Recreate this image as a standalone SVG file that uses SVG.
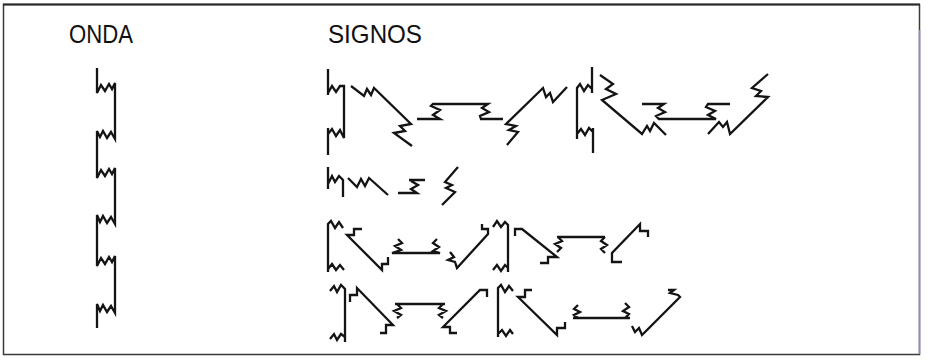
<svg xmlns="http://www.w3.org/2000/svg" width="928" height="360" viewBox="0 0 928 360">
<style>
.w{fill:none;stroke:#141414;stroke-width:2.3;stroke-linejoin:miter;stroke-linecap:butt}
.t{font-family:"Liberation Sans",Arial,sans-serif;font-size:25px;fill:#111}
</style>
<rect x="0" y="0" width="928" height="360" fill="#ffffff"/>
<rect x="3.5" y="4.5" width="916" height="350" fill="none" stroke="#3a3a3a" stroke-width="1.5"/>
<line x1="3" y1="4.5" x2="920" y2="4.5" stroke="#2a2a2a" stroke-width="2"/>
<line x1="919.5" y1="30" x2="919.5" y2="354" stroke="#9a86c4" stroke-width="1.5"/>
<g id="labels">
<text class="t" x="69" y="43" textLength="64" lengthAdjust="spacingAndGlyphs">ONDA</text>
<text class="t" x="328" y="43" textLength="94" lengthAdjust="spacingAndGlyphs">SIGNOS</text>
</g>
<g id="onda">
<path class="w" d="M97,68 V93 L101,85 L105,91 L109,84 L112,89 L115,83 V139 L111,132 L107,138 L103,131 L100,137 L97,131 V178 L101,170 L105,176 L109,169 L112,174 L115,168 V224 L111,217 L107,223 L103,216 L100,222 L97,215 V266 L101,258 L105,264 L109,257 L112,262 L115,256 V313 L111,306 L107,312 L103,305 L100,311 L97,304 V328"/>
</g>
<g id="row1">
<path class="w" d="M328,69 V95 M328,93 L332,86 L336,92 L340,86 L344,86 V138 L340,130 L336,136 L332,129 L328,134 M328,128 V155"/>
<path class="w" d="M351,86 L364,96 L367,89 L371,95 L374,88 L411,124 L400,126 L405,131 L394,133 L412,146"/>
<path class="w" d="M417,119 H440 L433,115 L440,110 L431,106 L433,104 H488 L482,108 L489,112 L480,116 L481,119 H503"/>
<path class="w" d="M507,145 L518,132 L509,130 L516,126 L506,124 L543,88 L546,97 L550,93 L553,102 L567,87"/>
<path class="w" d="M592,67 V93 M592,89 L588,85 L584,91 L580,84 L577,88 V139 M577,134 L581,129 L585,135 L589,128 L593,132 M593,128 V153"/>
<path class="w" d="M600,75 L613,84 L606,89 L616,94 L602,100 L642,134 L647,126 L650,131 L654,123 L666,135"/>
<path class="w" d="M642,104 H664 L658,108 L665,112 L656,116 L659,119 H716 L708,115 L715,111 L706,107 L708,104 H730"/>
<path class="w" d="M708,134 L719,122 L723,127 L727,122 L730,134 L768,97 L756,96 L761,91 L752,88 L768,74"/>
</g>
<g id="row2">
<path class="w" d="M328,167 V189 M328,184 L332,176 L335,182 L339,176 L343,180 V197"/>
<path class="w" d="M348,178 L357,187 L361,179 L365,186 L369,178 L388,195"/>
<path class="w" d="M398,193 H417 L411,189 L418,185 L411,181 M409,180 H425"/>
<path class="w" d="M458,167 L445,182 L452,185 L446,188 L455,192 L442,205"/>
</g>
<g id="row3">
<path class="w" d="M343,228 L339,222 L335,228 L331,221 L328,224 V272 M328,269 L332,264 L336,270 L340,265 L344,270"/>
<path class="w" d="M362,229 H354 V235 H347 L382,270 L382,264 L388,264 L388,257"/>
<path class="w" d="M398,239 L402,243 L395,246 L401,250 L392,253 H440 L433,251 L439,247 L433,243 L437,239"/>
<path class="w" d="M450,252 L454,257 L448,260 L455,262 L457,268 L488,234 V229 H482 V224"/>
<path class="w" d="M493,227 L497,221 L501,227 L505,222 L508,225 V272 M508,268 L505,265 L501,271 L497,265 L493,270"/>
<path class="w" d="M515,236 V229 H522 L557,257 H548 V263 H540"/>
<path class="w" d="M557,237 H605 M558,237 L562,241 L555,244 L561,248 L557,252 M605,237 L601,241 L607,245 L601,249 L605,253"/>
<path class="w" d="M622,262 H612 V253 L640,224 V231 H648 V237"/>
</g>
<g id="row4">
<path class="w" d="M330,291 L334,286 L337,292 L341,285 L345,289 V342 M345,337 L341,334 L337,340 L334,334 L330,339"/>
<path class="w" d="M350,302 V295 H357 V288 L393,325 H386 V333 H380"/>
<path class="w" d="M395,304 H445 M397,304 L401,308 L394,311 L401,315 L397,318 M443,304 L439,308 L446,311 L439,315 L443,318"/>
<path class="w" d="M457,333 H450 V327 H443 L480,290 H487 V297"/>
<path class="w" d="M513,291 L509,286 L505,292 L501,285 L498,288 V337 M498,334 L502,330 L506,336 L510,330 L513,334"/>
<path class="w" d="M532,290 H525 V297 H518 L557,335 V328 H565 V322"/>
<path class="w" d="M573,318 H630 M578,305 L574,309 L580,312 L574,315 L578,318 M625,303 L629,307 L623,311 L629,314 L625,318"/>
<path class="w" d="M668,290 H674 L670,293 L678,295 L680,297 L642,335 L639,328 L635,332 L632,326"/>
</g>
</svg>
